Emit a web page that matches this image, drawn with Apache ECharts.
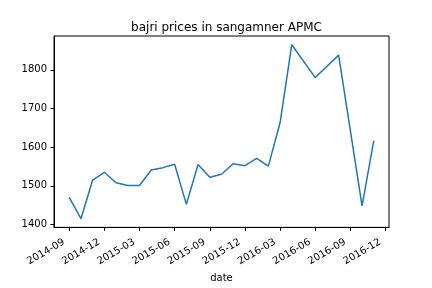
<!DOCTYPE html>
<html>
<head>
<meta charset="utf-8">
<script src="https://cdn.jsdelivr.net/npm/echarts@6/dist/echarts.min.js"></script>
<style>html,body{margin:0;padding:0;background:#fff}#c{width:432px;height:288px}</style>
</head>
<body>
<div id="c"></div>
<script>
const dates = ["2014-09","2014-10","2014-11","2014-12","2015-01","2015-02","2015-03","2015-04","2015-05","2015-06","2015-07","2015-08","2015-09","2015-10","2015-11","2015-12","2016-01","2016-02","2016-03","2016-04","2016-06","2016-08","2016-10","2016-11"];
const prices = [1470,1415,1515,1535,1508,1501,1501,1541,1547,1556,1452,1555,1522,1530,1557,1552,1571,1551,1663,1865,1780,1838,1448,1617];
const xTickLabels = ["2014-09","2014-12","2015-03","2015-06","2015-09","2015-12","2016-03","2016-06","2016-09","2016-12"];
const yTicks = [1400,1500,1600,1700,1800];

function monthIndex(s){ const [y,m]=s.split("-").map(Number); return (y-2014)*12 + (m-9); }
const seriesData = dates.map((d,i)=>[monthIndex(d), prices[i]]);
const xTickVals = xTickLabels.map(monthIndex);
const xFirst = seriesData[0][0], xLast = seriesData[seriesData.length-1][0];
const xPad = (xLast-xFirst)*0.05;
const yMinD = Math.min(...prices), yMaxD = Math.max(...prices);
const yPad = (yMaxD-yMinD)*0.05;
const labelMap = {}; xTickLabels.forEach(l=>labelMap[monthIndex(l)]=l);

const font = 'DejaVu Sans';
const chart = echarts.init(document.getElementById('c'), null, {renderer:'canvas'});
chart.setOption({
  animation:false,
  title:{text:'bajri prices in sangamner APMC', left:221.5, top:17, textAlign:'center',
    textStyle:{fontFamily:font,fontSize:12,fontWeight:'normal',color:'#000'}},
  grid:{left:54,top:36,right:43,bottom:58,show:true,borderColor:'#000',borderWidth:1,containLabel:false},
  xAxis:{type:'value',min:xFirst-xPad,max:xLast+xPad,
    name:'date',nameLocation:'middle',nameGap:40,
    nameTextStyle:{fontFamily:font,fontSize:10,color:'#000'},
    axisLine:{show:true,onZero:false,lineStyle:{color:'#000',width:1}},
    axisTick:{show:true,length:3.5,lineStyle:{color:'#000'},customValues:xTickVals},
    axisLabel:{fontFamily:font,fontSize:10,color:'#000',rotate:30,margin:11,padding:[0,6,0,0],customValues:xTickVals,
      formatter:v=>labelMap[Math.round(v)]||''},
    splitLine:{show:false}},
  yAxis:{type:'value',min:yMinD-yPad,max:yMaxD+yPad,
    axisLine:{show:true,onZero:false,lineStyle:{color:'#000',width:1}},
    axisTick:{show:true,length:3.5,lineStyle:{color:'#000'},customValues:yTicks},
    axisLabel:{fontFamily:font,fontSize:10,color:'#000',margin:7,customValues:yTicks,formatter:v=>String(v)},
    splitLine:{show:false}},
  series:[{type:'line',data:seriesData,showSymbol:false,symbol:'none',
    lineStyle:{color:'#1f77b4',width:1.5},itemStyle:{color:'#1f77b4'}}]
});
</script>
</body>
</html>
